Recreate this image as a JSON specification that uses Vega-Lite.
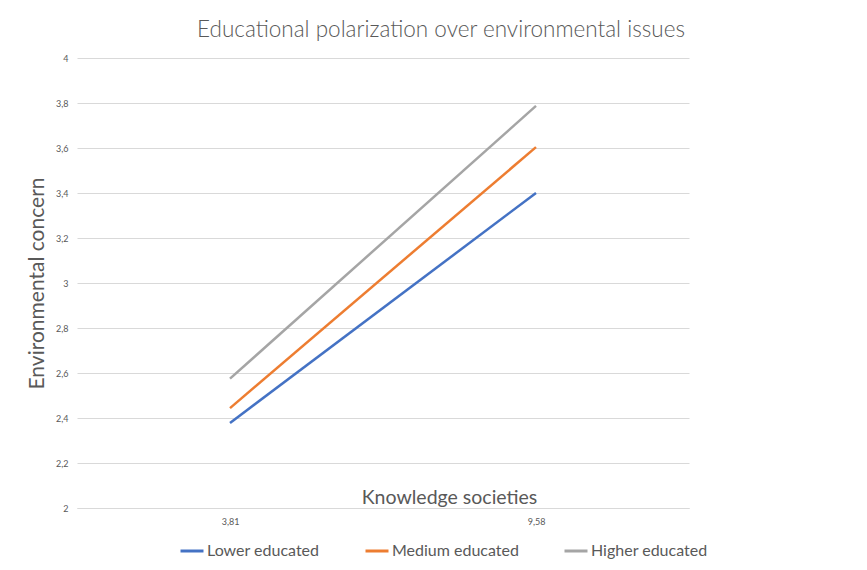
{
  "$schema": "https://vega.github.io/schema/vega-lite/v6.json",
  "autosize": {"type": "none"},
  "padding": {"left": 77, "top": 58, "right": 178, "bottom": 62},
  "width": 612,
  "height": 450,
  "background": "white",
  "config": {
    "font": "Lato",
    "view": {"stroke": null}
  },
  "title": {
    "text": "Educational polarization over environmental issues",
    "fontSize": 22.5,
    "font": "Lato",
    "fontWeight": 300,
    "color": "#595959",
    "anchor": "middle",
    "dx": 58,
    "offset": 13
  },
  "data": {
    "values": [
      {"group": "Lower educated", "ks": "3,81", "concern": 2.378},
      {"group": "Lower educated", "ks": "9,58", "concern": 3.40},
      {"group": "Medium educated", "ks": "3,81", "concern": 2.444},
      {"group": "Medium educated", "ks": "9,58", "concern": 3.604},
      {"group": "Higher educated", "ks": "3,81", "concern": 2.575},
      {"group": "Higher educated", "ks": "9,58", "concern": 3.787}
    ]
  },
  "mark": {"type": "line", "strokeWidth": 2.5},
  "encoding": {
    "x": {
      "field": "ks",
      "type": "ordinal",
      "scale": {"type": "point", "padding": 0.5},
      "sort": ["3,81", "9,58"],
      "axis": {
        "title": "Knowledge societies",
        "titleFontSize": 19.5,
        "titleFontWeight": "normal",
        "titleColor": "#595959",
        "titleX": 372,
        "titleY": -5,
        "titleBaseline": "alphabetic",
        "titleAlign": "center",
        "labelAngle": 0,
        "labelFontSize": 9,
        "labelColor": "#595959",
        "labelPadding": 9,
        "ticks": false,
        "domain": true,
        "domainColor": "#d9d9d9",
        "grid": false
      }
    },
    "y": {
      "field": "concern",
      "type": "quantitative",
      "scale": {"domain": [2, 4], "nice": false, "zero": false},
      "axis": {
        "title": "Environmental concern",
        "titleFontSize": 21,
        "titleFontWeight": "normal",
        "titleColor": "#595959",
        "titleX": -40,
        "titleY": 225,
        "titleAngle": -90,
        "titleAlign": "center",
        "titleBaseline": "middle",
        "values": [2, 2.2, 2.4, 2.6, 2.8, 3, 3.2, 3.4, 3.6, 3.8, 4],
        "labelExpr": "replace(format(datum.value, '.1~f'), '.', ',')",
        "labelFontSize": 9,
        "labelColor": "#595959",
        "labelPadding": 9,
        "ticks": false,
        "domain": false,
        "grid": true,
        "gridColor": "#d9d9d9",
        "gridWidth": 1
      }
    },
    "color": {
      "field": "group",
      "type": "nominal",
      "scale": {
        "domain": ["Lower educated", "Medium educated", "Higher educated"],
        "range": ["#4472C4", "#ED7D31", "#A5A5A5"]
      },
      "legend": {
        "title": null,
        "orient": "none",
        "direction": "horizontal",
        "legendX": 102,
        "legendY": 480,
        "symbolType": "stroke",
        "symbolSize": 529,
        "symbolStrokeWidth": 3,
        "labelFontSize": 16,
        "labelColor": "#595959",
        "labelOffset": 2,
        "columnPadding": 39
      }
    }
  }
}
